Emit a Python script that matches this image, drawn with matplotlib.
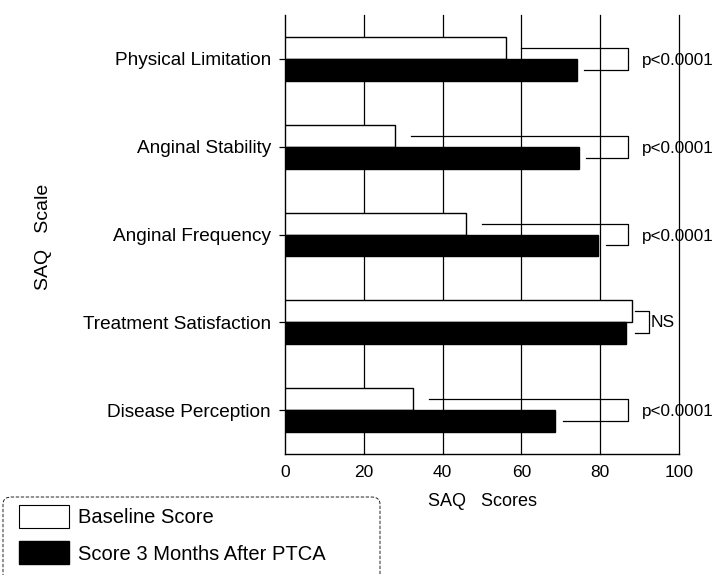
"""SAQ scores at baseline and 3 months after PTCA, horizontal grouped bars."""

import matplotlib

matplotlib.use("Agg")

import matplotlib.pyplot as plt
import numpy as np
from matplotlib.patches import FancyBboxPatch, Patch


categories = [
    "Physical Limitation",
    "Anginal Stability",
    "Anginal Frequency",
    "Treatment Satisfaction",
    "Disease Perception",
]
baseline = [56, 28, 46, 88, 32.5]
after_ptca = [74, 74.5, 79.5, 86.5, 68.5]
p_labels = ["p<0.0001", "p<0.0001", "p<0.0001", "NS", "p<0.0001"]
x_ticks = [0, 20, 40, 60, 80, 100]

plt.rcParams["font.family"] = ["Liberation Sans", "DejaVu Sans"]

W, H = 725, 575
fig = plt.figure(figsize=(W / 100, H / 100), dpi=100)
ax = fig.add_axes([285 / W, 1 - 454 / H, 394 / W, 439 / H])

y = np.arange(len(categories))
h = 0.25
ax.barh(y - h / 2, baseline, height=h, color="white", edgecolor="black", linewidth=1.0, zorder=3)
ax.barh(y + h / 2, after_ptca, height=h, color="black", edgecolor="black", linewidth=1.0, zorder=3)

for xv in x_ticks[1:]:
    ax.axvline(xv, color="black", linewidth=0.9, zorder=1, clip_on=False)

# significance brackets
for i, (b, a, lab) in enumerate(zip(baseline, after_ptca, p_labels)):
    y_top, y_bot = i - h / 2, i + h / 2
    if lab == "NS":
        xb = max(b, a) + 4.5
        ax.plot([max(b, a) + 0.8, xb, xb, max(b, a) + 0.8], [y_top, y_top, y_bot, y_bot],
                color="black", linewidth=0.9, zorder=4, clip_on=False)
        ax.text(xb + 0.4, i, lab, fontsize=12.5, va="center", ha="left", clip_on=False)
    else:
        xb = 87
        ax.plot([b + 4, xb, xb, a + 2], [y_top, y_top, y_bot, y_bot],
                color="black", linewidth=0.9, zorder=4, clip_on=False)
        ax.text(90.7, i + 0.02, lab, fontsize=12.3, va="center", ha="left", clip_on=False)

ax.set_xlim(0, 100)
ax.set_ylim(len(categories) - 0.5, -0.5)
ax.set_xticks(x_ticks)
ax.set_xticklabels([str(t) for t in x_ticks], fontsize=12.5)
ax.set_yticks(y)
ax.set_yticklabels(categories, fontsize=13.7)
ax.tick_params(axis="x", length=0, pad=8)
ax.tick_params(axis="y", length=4, width=0.9, pad=6)

for side in ["top", "right"]:
    ax.spines[side].set_visible(False)
for side in ["left", "bottom"]:
    ax.spines[side].set_linewidth(1.0)

ax.set_xlabel("SAQ   Scores", fontsize=13, labelpad=9)
fig.text(43 / W, 1 - 237 / H, "SAQ   Scale", rotation=90, fontsize=14, ha="center", va="center")

# legend: box runs off the bottom edge like the scanned original
frame = FancyBboxPatch((3 / W, -0.05), 377 / W, 0.05 + 1 - 497 / H,
                       boxstyle="round,pad=0,rounding_size=0.012", transform=fig.transFigure,
                       facecolor="white", edgecolor="black", linewidth=0.6,
                       linestyle=(0, (4, 2)), clip_on=False)
fig.add_artist(frame)
handles = [
    Patch(facecolor="white", edgecolor="black", linewidth=0.8, label="Baseline Score"),
    Patch(facecolor="black", edgecolor="black", label="Score 3 Months After PTCA"),
]
leg = fig.legend(handles=handles, loc="upper left", bbox_to_anchor=(19 / W, 1 - 505 / H),
                 fontsize=14.5, frameon=False, handlelength=2.5, handleheight=1.37,
                 handletextpad=0.45, labelspacing=0.67, borderaxespad=0, borderpad=0)

fig.savefig("out.png", dpi=100)
